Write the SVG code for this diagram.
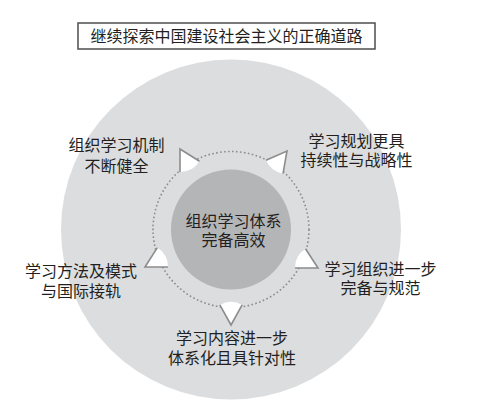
<svg xmlns="http://www.w3.org/2000/svg" width="486" height="407" viewBox="0 0 486 407">
<style>
text{font-family:"Noto Sans CJK SC","Noto Sans",sans-serif;font-size:16px;fill:#231f20;text-anchor:middle}
.fill{fill:#ffffff;stroke:none}
.edge{fill:none;stroke:#8c8c8c;stroke-width:1.6;stroke-linejoin:miter}
</style>
<rect width="486" height="407" fill="#ffffff"/>
<g id="title">
<rect x="78" y="23" width="297" height="26" fill="#ffffff" stroke="#4d4d4d" stroke-width="1.5"/>
<text x="226.5" y="42">继续探索中国建设社会主义的正确道路</text>
</g>
<g id="outer-circle">
<circle cx="231" cy="229.5" r="170" fill="#dcdddf"/>
</g>
<g id="connectors">
<circle cx="231" cy="229.5" r="78" fill="none" stroke="#8c8c8c" stroke-width="1.6" stroke-dasharray="1.6 2.4"/>
</g>
<g id="center">
<circle cx="231" cy="229.5" r="60" fill="#b4b5b7"/>
<text x="233.5" y="227">组织学习体系</text>
<text x="233.5" y="246">完备高效</text>
</g>
<g id="pointer-tl">
<path class="fill" d="M180,149 L199.5,161.2 A23,23 0 0 1 180,172 Z"/>
<path class="edge" d="M199.5,161.2 L180,149 L180,172"/>
</g>
<g id="pointer-tr">
<path class="fill" d="M287,151 L283,173.65 A23,23 0 0 1 266,160.35 Z"/>
<path class="edge" d="M283,173.65 L287,151 L266,160.35"/>
</g>
<g id="pointer-r">
<path class="fill" d="M318,268 L295,268 A23,23 0 0 1 305.5,248.7 Z"/>
<path class="edge" d="M295,268 L318,268 L305.5,248.7"/>
</g>
<g id="pointer-b">
<path class="fill" d="M231,325 L219.85,304.9 A23,23 0 0 1 242.15,304.9 Z"/>
<path class="edge" d="M219.85,304.9 L231,325 L242.15,304.9"/>
</g>
<g id="pointer-l">
<path class="fill" d="M145,267 L157.35,247.6 A23,23 0 0 1 168,267 Z"/>
<path class="edge" d="M157.35,247.6 L145,267 L168,267"/>
</g>
<g id="node-tl">
<text x="116.5" y="151">组织学习机制</text>
<text x="116.5" y="171.5">不断健全</text>
</g>
<g id="node-tr">
<text x="356.5" y="147">学习规划更具</text>
<text x="356.5" y="166">持续性与战略性</text>
</g>
<g id="node-l">
<text x="81" y="277">学习方法及模式</text>
<text x="81" y="297">与国际接轨</text>
</g>
<g id="node-r">
<text x="380.5" y="275">学习组织进一步</text>
<text x="380.5" y="293.5">完备与规范</text>
</g>
<g id="node-b">
<text x="232" y="344">学习内容进一步</text>
<text x="232" y="363.5">体系化且具针对性</text>
</g>
</svg>
